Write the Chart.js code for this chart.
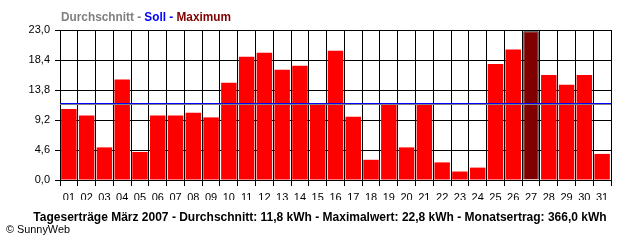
<!DOCTYPE html>
<html>
<head>
<meta charset="utf-8">
<script src="https://cdn.jsdelivr.net/npm/chart.js@4/dist/chart.umd.min.js"></script>
<style>
  html, body { margin: 0; padding: 0; background: #fff; }
  canvas { display: block; }
</style>
</head>
<body>
<canvas id="yieldChart" width="640" height="240"></canvas>
<script>
// Tageserträge März 2007 (kWh per day)
const days = ['01','02','03','04','05','06','07','08','09','10','11','12','13','14','15','16',
              '17','18','19','20','21','22','23','24','25','26','27','28','29','30','31'];
const dailyKwh = [10.9, 9.9, 5.0, 15.4, 4.3, 9.9, 9.9, 10.3, 9.6, 14.9, 18.9, 19.5, 16.9, 17.5, 11.5, 19.8,
                  9.7, 3.1, 11.5, 5.0, 11.5, 2.7, 1.3, 1.9, 17.8, 20.0, 22.8, 16.1, 14.6, 16.1, 4.0];
const yTicks = [0, 4.6, 9.2, 13.8, 18.4, 23.0];
const sollValue = 11.75;     // blue line
const averageValue = 11.6;   // grey line
const headerParts = [
    { text: 'Durchschnitt - ', color: '#808080' },
    { text: 'Soll - ', color: '#0000ff' },
    { text: 'Maximum', color: '#800000' }
];
const footerText = 'Tageserträge März 2007 - Durchschnitt: 11,8 kWh - Maximalwert: 22,8 kWh - Monatsertrag: 366,0 kWh';
const copyrightText = '© SunnyWeb';

const FONT = '"Liberation Sans", Arial, sans-serif';
const maxVal = Math.max(...dailyKwh);
const barColors = dailyKwh.map(v => v === maxVal ? '#800000' : '#ff0000');
const barBorders = dailyKwh.map(v => v === maxVal ? 1 : 0);

// draws Soll / Durchschnitt lines plus header and footer texts
const decorations = {
    id: 'decorations',
    afterDatasetsDraw(chart) {
        const { ctx, chartArea } = chart;
        const y = chart.scales.y;
        ctx.save();
        [[sollValue, '#0000ff'], [averageValue, '#808080']].forEach(([v, c]) => {
            const py = Math.floor(y.getPixelForValue(v)) + 0.5;
            ctx.strokeStyle = c;
            ctx.lineWidth = 1;
            ctx.beginPath();
            ctx.moveTo(chartArea.left, py);
            ctx.lineTo(chartArea.right, py);
            ctx.stroke();
        });
        ctx.restore();
    },
    afterDraw(chart) {
        const { ctx, chartArea } = chart;
        ctx.save();
        ctx.textBaseline = 'alphabetic';

        // header, squeezed to the width it has in the original
        ctx.font = 'bold 12px ' + FONT;
        const total = headerParts.reduce((s, p) => s + ctx.measureText(p.text).width, 0);
        const sx = 170 / total;
        ctx.translate(chartArea.left + 1, 21);
        ctx.scale(sx, 1);
        let x = 0;
        headerParts.forEach(p => {
            ctx.fillStyle = p.color;
            ctx.fillText(p.text, x, 0);
            x += ctx.measureText(p.text).width;
        });
        ctx.setTransform(1, 0, 0, 1, 0, 0);

        ctx.fillStyle = '#000';
        ctx.font = 'bold 12px ' + FONT;
        ctx.textAlign = 'center';
        ctx.fillText(footerText, 320, 221, 585);

        ctx.font = '11px ' + FONT;
        ctx.textAlign = 'left';
        ctx.fillText(copyrightText, 6, 233, 64);
        ctx.restore();
    }
};

new Chart(document.getElementById('yieldChart'), {
    type: 'bar',
    data: {
        labels: days,
        datasets: [{
            data: dailyKwh,
            backgroundColor: barColors,
            borderColor: '#000',
            borderWidth: barBorders,
            barPercentage: 0.87,
            categoryPercentage: 1.0
        }]
    },
    options: {
        responsive: false,
        animation: false,
        devicePixelRatio: 1,
        layout: { padding: { left: 0, right: 29, top: 30, bottom: 40 } },
        plugins: {
            legend: { display: false },
            title: { display: false },
            tooltip: { enabled: false }
        },
        scales: {
            x: {
                grid: { offset: true, color: '#000', lineWidth: 1, tickLength: 6 },
                border: { color: '#000' },
                ticks: { color: '#000', font: { family: FONT, size: 11 }, padding: 5, maxRotation: 0, autoSkip: false },
                afterFit: s => { s.height = 20; }
            },
            y: {
                min: 0,
                max: 23,
                afterBuildTicks: s => { s.ticks = yTicks.map(v => ({ value: v })); },
                grid: { color: '#000', lineWidth: 1, tickLength: 5 },
                border: { color: '#000' },
                ticks: {
                    color: '#000',
                    font: { family: FONT, size: 11 },
                    padding: 5,
                    callback: v => v.toFixed(1).replace('.', ',')
                },
                afterFit: s => { s.width = 60; }
            }
        }
    },
    plugins: [decorations]
});
</script>
</body>
</html>
